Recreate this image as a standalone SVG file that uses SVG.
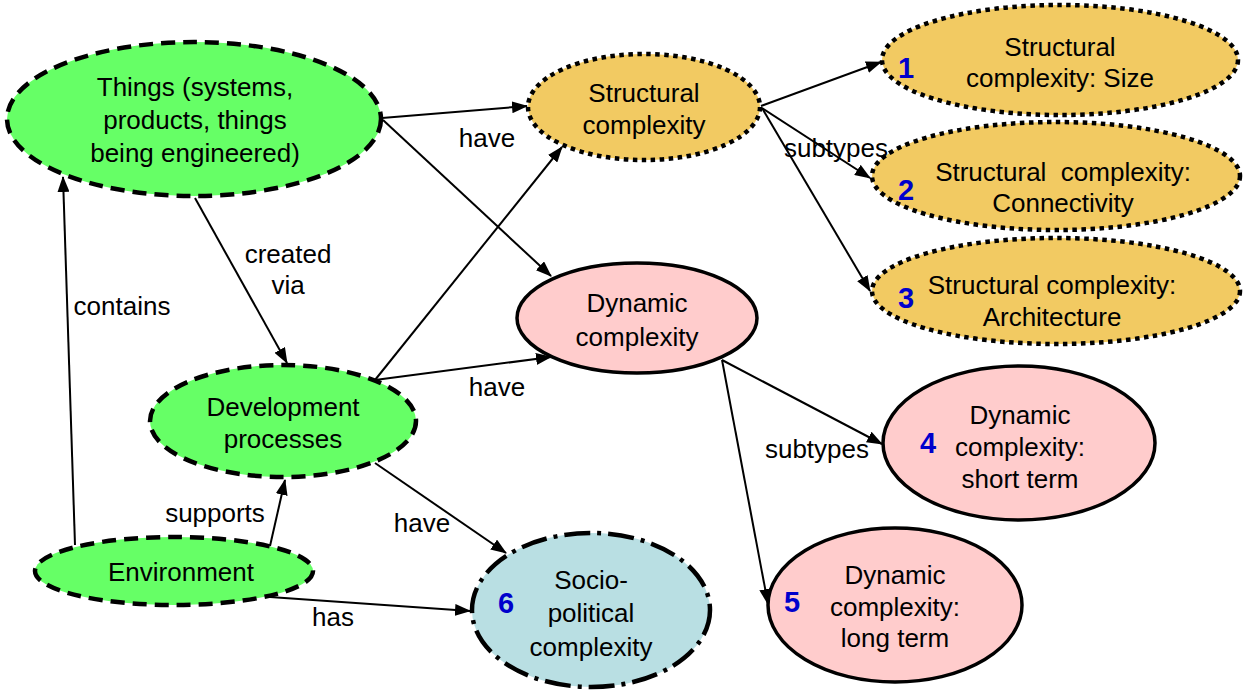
<svg xmlns="http://www.w3.org/2000/svg" width="1249" height="693" viewBox="0 0 1249 693">
<style>
text{font-family:"Liberation Sans",Arial,sans-serif;font-size:26px;fill:#000;text-anchor:middle}
.num{font-weight:bold;fill:#0000cc;font-size:29px}
.green{fill:#66ff66;stroke:#000;stroke-width:4.5;stroke-dasharray:14 8}
.yellow{fill:#f2ca62;stroke:#000;stroke-width:4.5;stroke-dasharray:4.5 4.5}
.pink{fill:#ffcccc;stroke:#000;stroke-width:3.5}
.socio{fill:#b9dfe3;stroke:#000;stroke-width:4.5;stroke-dasharray:26 7 4 7}
.edge{stroke:#000;stroke-width:2;fill:none;marker-end:url(#arr)}
</style>
<defs>
<marker id="arr" markerUnits="userSpaceOnUse" markerWidth="16" markerHeight="12" refX="15" refY="6" orient="auto">
<path d="M0,0 L16,6 L0,12 Z" fill="#000"/>
</marker>
</defs>
<rect width="1249" height="693" fill="#fff"/>
<g id="things"><ellipse class="green" cx="194" cy="119" rx="187" ry="77"/>
<text x="195" y="96">Things (systems,</text><text x="195" y="129">products, things</text><text x="195" y="162">being engineered)</text></g>
<g id="structural"><ellipse class="yellow" cx="644" cy="107" rx="116" ry="53"/>
<text x="644" y="102">Structural</text><text x="644" y="134">complexity</text></g>
<g id="size"><ellipse class="yellow" cx="1060" cy="60" rx="178" ry="55"/>
<text class="num" x="906" y="78">1</text>
<text x="1060" y="56">Structural</text><text x="1060" y="87">complexity: Size</text></g>
<g id="connectivity"><ellipse class="yellow" cx="1056" cy="176" rx="184" ry="54"/>
<text class="num" x="906" y="200">2</text>
<text x="1063" y="181" xml:space="preserve">Structural  complexity:</text><text x="1063" y="212">Connectivity</text></g>
<g id="architecture"><ellipse class="yellow" cx="1056" cy="291" rx="184" ry="53"/>
<text class="num" x="906" y="308">3</text>
<text x="1052" y="294">Structural complexity:</text><text x="1052" y="326">Architecture</text></g>
<g id="dynamic"><ellipse class="pink" cx="637" cy="318" rx="120" ry="55"/>
<text x="637" y="312">Dynamic</text><text x="637" y="346">complexity</text></g>
<g id="development"><ellipse class="green" cx="283" cy="421" rx="133" ry="56"/>
<text x="283" y="416">Development</text><text x="283" y="448">processes</text></g>
<g id="environment"><ellipse class="green" cx="174" cy="571" rx="139" ry="34"/>
<text x="181" y="581">Environment</text></g>
<g id="socio"><ellipse class="socio" cx="591" cy="610" rx="119" ry="77"/>
<text class="num" x="506" y="613">6</text>
<text x="591" y="589">Socio-</text><text x="591" y="622">political</text><text x="591" y="656">complexity</text></g>
<g id="short"><ellipse class="pink" cx="1019" cy="443" rx="136" ry="77"/>
<text class="num" x="928" y="453">4</text>
<text x="1020" y="424">Dynamic</text><text x="1020" y="456">complexity:</text><text x="1020" y="488">short term</text></g>
<g id="long"><ellipse class="pink" cx="895" cy="605" rx="127" ry="77"/>
<text class="num" x="792" y="612">5</text>
<text x="895" y="584">Dynamic</text><text x="895" y="616">complexity:</text><text x="895" y="647">long term</text></g>
<g id="connectors">
<line class="edge" x1="382" y1="118" x2="527" y2="106"/>
<line class="edge" x1="383" y1="120" x2="551" y2="276"/>
<line class="edge" x1="195" y1="198" x2="287" y2="363"/>
<line class="edge" x1="75" y1="545" x2="63" y2="177"/>
<line class="edge" x1="270" y1="546" x2="285" y2="480"/>
<line class="edge" x1="270" y1="597" x2="470" y2="611"/>
<line class="edge" x1="375" y1="380" x2="562" y2="147"/>
<line class="edge" x1="375" y1="380" x2="551" y2="357"/>
<line class="edge" x1="375" y1="463" x2="506" y2="553"/>
<line class="edge" x1="761" y1="106" x2="881" y2="62"/>
<line class="edge" x1="762" y1="108" x2="870" y2="178"/>
<line class="edge" x1="762" y1="108" x2="870" y2="291"/>
<line class="edge" x1="722" y1="360" x2="882" y2="444"/>
<line class="edge" x1="722" y1="360" x2="768" y2="604"/>
<text x="487" y="147">have</text>
<text x="288" y="263">created</text><text x="288" y="294">via</text>
<text x="122" y="315">contains</text>
<text x="497" y="396">have</text>
<text x="215" y="522">supports</text>
<text x="422" y="532">have</text>
<text x="333" y="626">has</text>
<text x="836" y="157">subtypes</text>
<text x="817" y="458">subtypes</text>
</g>
</svg>
